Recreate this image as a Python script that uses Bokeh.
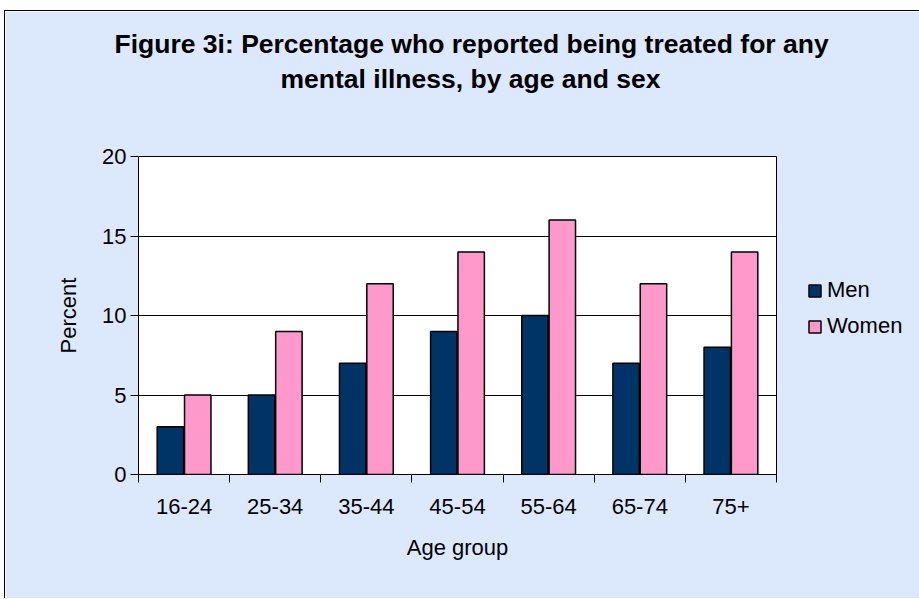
import numpy as np
from bokeh.plotting import figure
from bokeh.models import (Range1d, FixedTicker, Legend, LegendItem, Title)
from bokeh.embed import file_html
from bokeh.resources import INLINE

age_groups = ["16-24", "25-34", "35-44", "45-54", "55-64", "65-74", "75+"]
men = [3, 5, 7, 9, 10, 7, 8]
women = [5, 9, 12, 14, 16, 12, 14]
y_ticks = [0, 5, 10, 15, 20]
title_lines = ["Figure 3i: Percentage who reported being treated for any",
               "mental illness, by age and sex"]

FONT = "Liberation Sans"
BG = "#dce9fc"

idx = np.arange(len(age_groups)) + 0.5

p = figure(frame_width=638, frame_height=318, output_backend="svg", toolbar_location=None,
           x_range=Range1d(0, len(age_groups)), y_range=Range1d(0, 20),
           min_border_left=133, min_border_right=142, min_border_top=145,
           min_border_bottom=124)
p.styles = {"border-top": "1px solid black", "border-left": "1px solid black",
            "margin-left": "4px", "margin-top": "10px"}
p.background_fill_color = "white"
p.border_fill_color = BG
p.outline_line_color = "black"
p.outline_line_width = 1

r_men = p.vbar(x=idx - 0.15, top=men, width=0.29, bottom=0,
               fill_color="#003366", line_color="black", line_width=1.5)
r_women = p.vbar(x=idx + 0.15, top=women, width=0.29, bottom=0,
                 fill_color="#ff99cc", line_color="black", line_width=1.5)

# x axis
xa = p.xaxis[0]
xa.ticker = FixedTicker(ticks=list(idx), minor_ticks=list(range(len(age_groups) + 1)))
xa.major_label_overrides = {float(v): lab for v, lab in zip(idx, age_groups)}
xa.major_tick_out = 0
xa.major_tick_in = 0
xa.minor_tick_out = 8
xa.minor_tick_in = 0
xa.minor_tick_line_color = "black"
xa.axis_line_color = "black"
xa.major_label_text_font = FONT
xa.major_label_text_font_size = "22px"
xa.major_label_text_color = "black"
xa.major_label_standoff = 16
xa.axis_label = "Age group"
xa.axis_label_text_font = FONT
xa.axis_label_text_font_size = "22px"
xa.axis_label_text_font_style = "normal"
xa.axis_label_text_color = "black"
xa.axis_label_standoff = 18

# y axis
ya = p.yaxis[0]
ya.ticker = FixedTicker(ticks=y_ticks)
ya.minor_tick_line_color = None
ya.major_tick_out = 8
ya.major_tick_in = 0
ya.major_tick_line_color = "black"
ya.axis_line_color = "black"
ya.major_label_text_font = FONT
ya.major_label_text_font_size = "22px"
ya.major_label_text_color = "black"
ya.major_label_standoff = 4
ya.axis_label = "Percent"
ya.axis_label_text_font = FONT
ya.axis_label_text_font_size = "22px"
ya.axis_label_text_font_style = "normal"
ya.axis_label_text_color = "black"
ya.axis_label_standoff = 18

p.xgrid.grid_line_color = None
p.ygrid.grid_line_color = "black"
p.ygrid.grid_line_alpha = 1

legend = Legend(items=[LegendItem(label="Men", renderers=[r_men]),
                       LegendItem(label="Women", renderers=[r_women])],
                location=(21, 125), margin=0, padding=10,
                background_fill_alpha=0, border_line_alpha=0,
                glyph_width=15, glyph_height=15, label_height=24,
                spacing=10, label_standoff=5,
                label_text_font=FONT, label_text_font_size="22px",
                label_text_color="black")
p.add_layout(legend, "right")

p.title = None
spacer = Title(text=" ", text_font_size="1px", standoff=58)
t2 = Title(text=title_lines[1], align="left", vertical_align="bottom",
           text_font=FONT, text_font_size="26.5px", text_font_style="bold",
           text_color="black", offset=142, standoff=3)
t1 = Title(text=title_lines[0], align="left", vertical_align="bottom",
           text_font=FONT, text_font_size="26.5px", text_font_style="bold",
           text_color="black", offset=-24, standoff=3)
p.add_layout(spacer, "above")
p.add_layout(t2, "above")
p.add_layout(t1, "above")

open("out.html", "w").write(file_html(p, INLINE))
